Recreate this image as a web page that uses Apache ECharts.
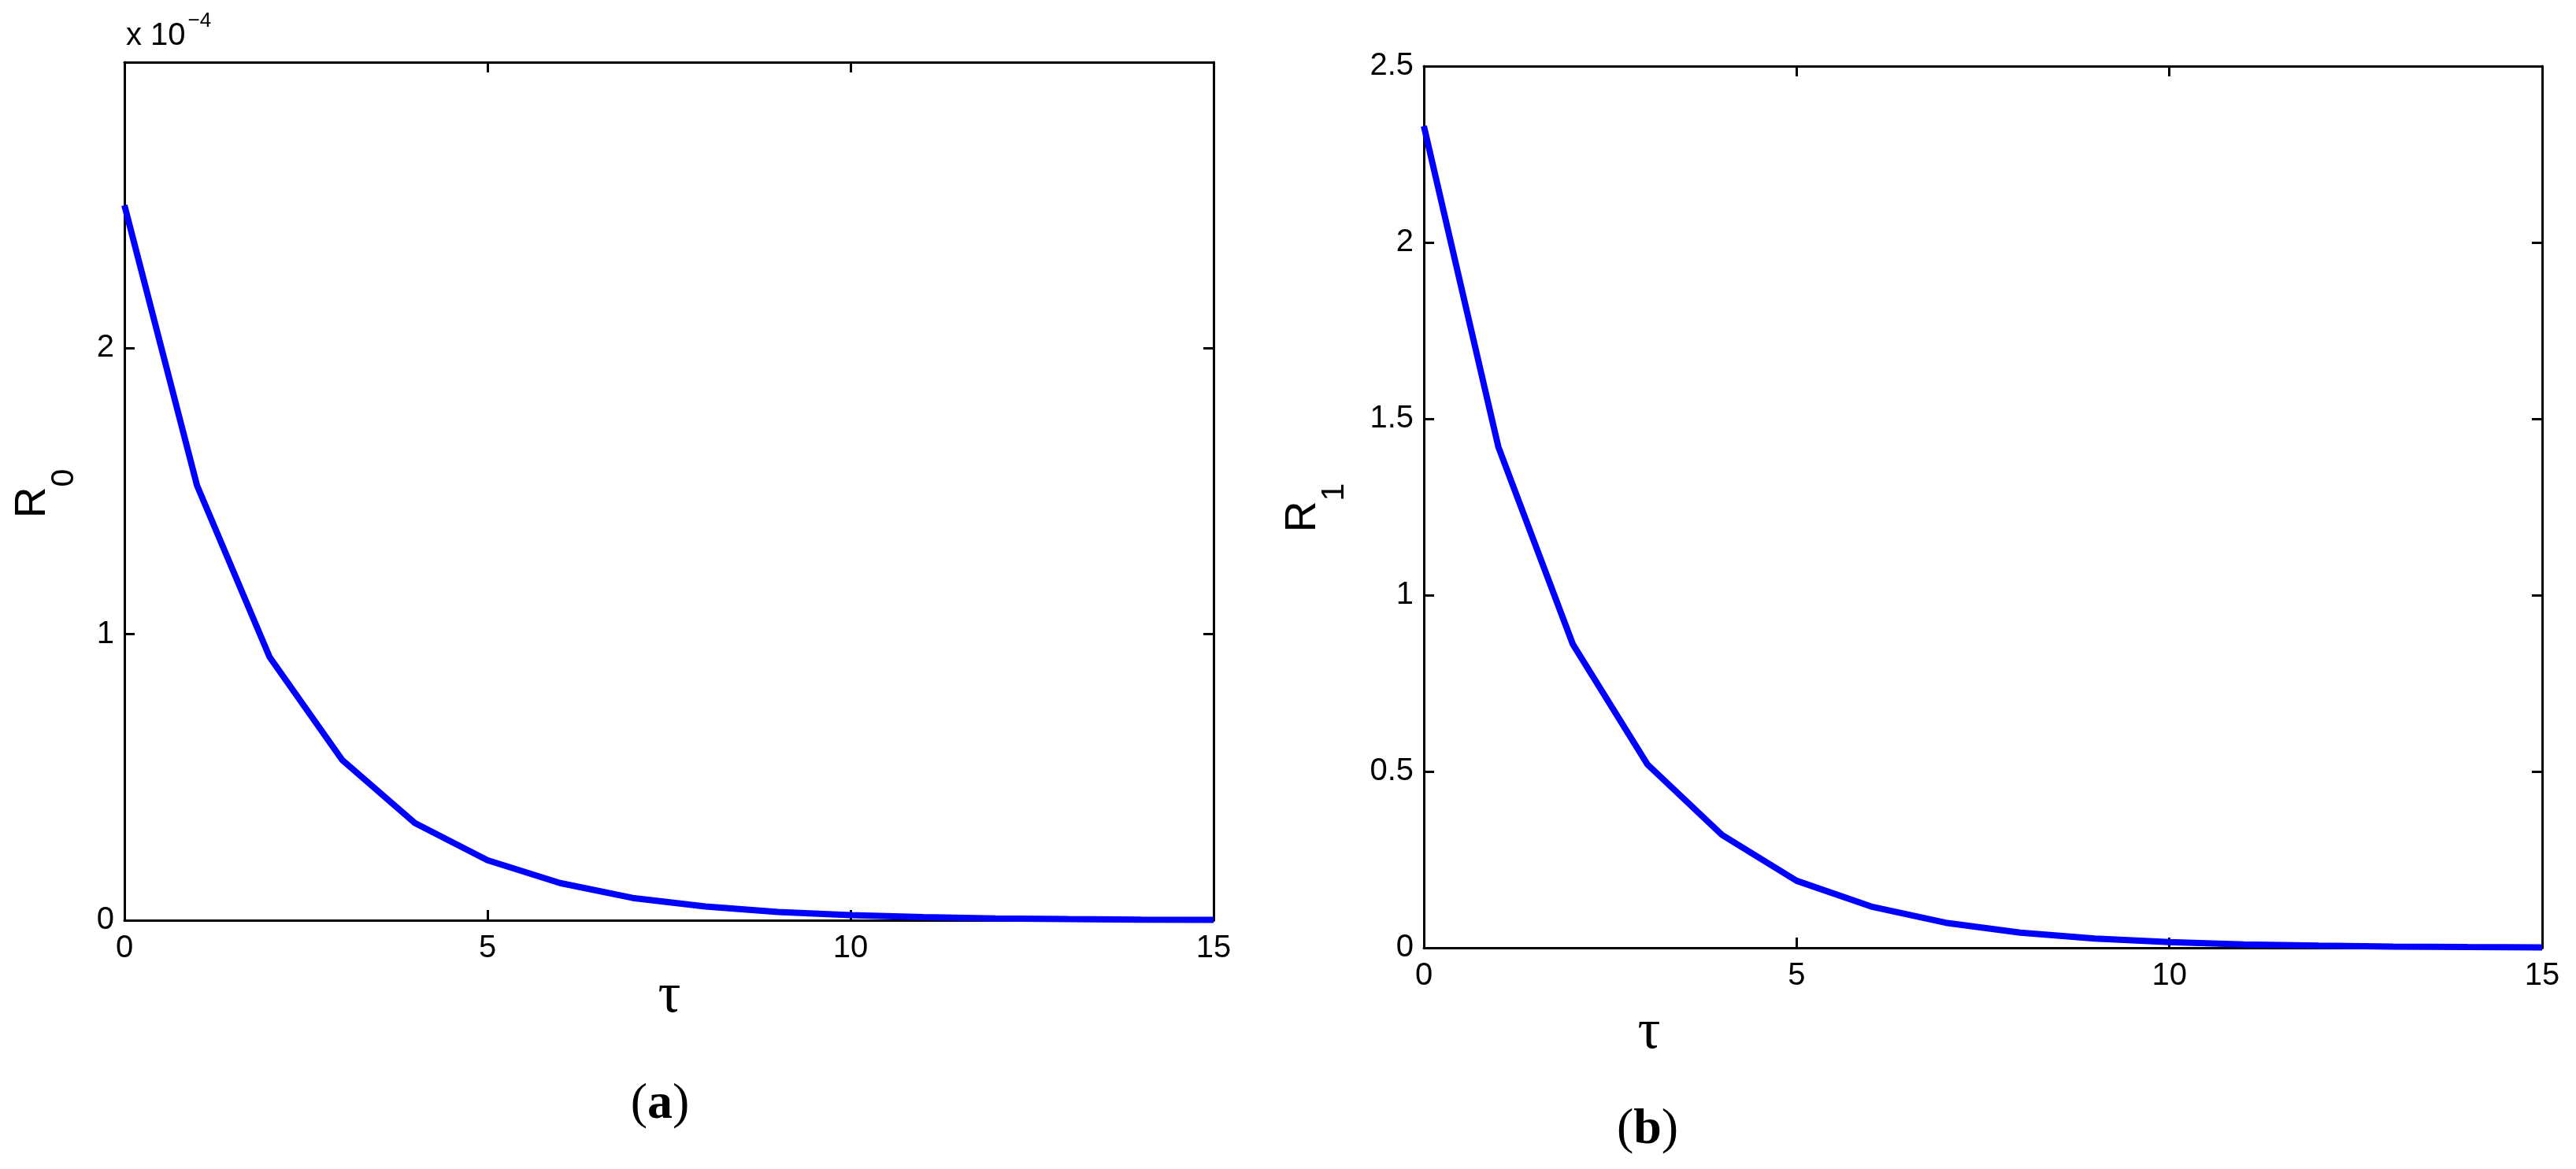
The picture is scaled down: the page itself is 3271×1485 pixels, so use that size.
<!DOCTYPE html>
<html>
<head>
<meta charset="utf-8">
<script src="https://cdn.jsdelivr.net/npm/echarts@6/dist/echarts.min.js"></script>
<style>
	html, body { margin: 0; padding: 0; background: #fff; }
	#chart { width: 3271px; height: 1485px; }
</style>
</head>
<body>
<div id="chart"></div>
<script>
	// tau values (shared by both panels)
	var tau = [0, 1, 2, 3, 4, 5, 6, 7, 8, 9, 10, 11, 12, 13, 14, 15];
	// panel (a): R0, in units of 1e-4
	var r0 = [2.50, 1.52, 0.92, 0.56, 0.34, 0.21, 0.13, 0.078, 0.048, 0.029, 0.018, 0.011, 0.0065, 0.004, 0.0024, 0.0015];
	// panel (b): R1
	var r1 = [2.33, 1.42, 0.86, 0.52, 0.32, 0.19, 0.117, 0.071, 0.043, 0.026, 0.016, 0.0097, 0.0059, 0.0036, 0.0022, 0.0013];

	var xTicks = { min: 0, max: 15, interval: 5 };
	var y0Ticks = { min: 0, max: 3, interval: 1 };
	var y1Ticks = { min: 0, max: 2.5, interval: 0.5 };

	var BLACK = '#000';
	var SANS = '"Liberation Sans", Arial, sans-serif';
	var SERIF = '"Liberation Serif", "Times New Roman", serif';

	function pairs(xs, ys) {
		var out = [];
		for (var i = 0; i < xs.length; i++) out.push([xs[i], ys[i]]);
		return out;
	}

	// one axis of the box; main ones carry labels
	function axis(grid, pos, ticks, main, fmt) {
		return {
			type: 'value',
			gridIndex: grid,
			position: pos,
			min: ticks.min, max: ticks.max, interval: ticks.interval,
			axisLine: { show: true, onZero: false, lineStyle: { color: BLACK, width: 3 } },
			axisTick: { show: true, inside: true, length: 13, lineStyle: { color: BLACK, width: 3 } },
			splitLine: { show: false },
			axisLabel: {
				show: main,
				color: BLACK,
				fontFamily: SANS,
				fontSize: 40,
				margin: (pos === 'bottom') ? 16 : 13,
				showMinLabel: true,
				showMaxLabel: true,
				formatter: fmt
			}
		};
	}

	var chart = echarts.init(document.getElementById('chart'));

	chart.setOption({
		backgroundColor: '#fff',
		animation: false,
		grid: [
			{ left: 158, top: 79, width: 1383, height: 1090 },
			{ left: 1808, top: 84, width: 1420, height: 1120 }
		],
		xAxis: [
			axis(0, 'bottom', xTicks, true),
			axis(0, 'top', xTicks, false),
			axis(1, 'bottom', xTicks, true),
			axis(1, 'top', xTicks, false)
		],
		yAxis: [
			axis(0, 'left', y0Ticks, true, function (v) { return v === 3 ? '' : String(v); }),
			axis(0, 'right', y0Ticks, false),
			axis(1, 'left', y1Ticks, true, function (v) { return String(v); }),
			axis(1, 'right', y1Ticks, false)
		],
		series: [
			{
				type: 'line',
				xAxisIndex: 0, yAxisIndex: 0,
				data: pairs(tau, r0),
				showSymbol: false,
				lineStyle: { color: '#0000ff', width: 8 }
			},
			{
				type: 'line',
				xAxisIndex: 2, yAxisIndex: 2,
				data: pairs(tau, r1),
				showSymbol: false,
				lineStyle: { color: '#0000ff', width: 8 }
			}
		],
		graphic: [
			//axis exponent
			{
				type: 'text', left: 160, top: 14,
				style: {
					text: '{a|x 10}{b|−4}',
					rich: {
						a: { fontFamily: SANS, fontSize: 40, fill: BLACK, lineHeight: 52, verticalAlign: 'bottom' },
						b: { fontFamily: SANS, fontSize: 26, fill: BLACK, lineHeight: 25, verticalAlign: 'top', padding: [0, 0, 0, 3] }
					}
				}
			},
			//y titles
			{
				type: 'text', x: 42, y: 627, rotation: Math.PI / 2,
				style: {
					text: '{r|R}{s|0}', align: 'center', verticalAlign: 'middle',
					rich: {
						r: { fontFamily: SANS, fontSize: 55, fill: BLACK, lineHeight: 120, verticalAlign: 'middle' },
						s: { fontFamily: SANS, fontSize: 41, fill: BLACK, lineHeight: 40, verticalAlign: 'bottom' }
					}
				}
			},
			{
				type: 'text', x: 1655, y: 645, rotation: Math.PI / 2,
				style: {
					text: '{r|R}{s|1}', align: 'center', verticalAlign: 'middle',
					rich: {
						r: { fontFamily: SANS, fontSize: 55, fill: BLACK, lineHeight: 120, verticalAlign: 'middle' },
						s: { fontFamily: SANS, fontSize: 41, fill: BLACK, lineHeight: 40, verticalAlign: 'bottom' }
					}
				}
			},
			//x titles
			{
				type: 'text', x: 850, y: 1266,
				style: { text: 'τ', fontFamily: SERIF, fontSize: 72, fill: BLACK, align: 'center', verticalAlign: 'middle' }
			},
			{
				type: 'text', x: 2094, y: 1312,
				style: { text: 'τ', fontFamily: SERIF, fontSize: 72, fill: BLACK, align: 'center', verticalAlign: 'middle' }
			},
			//panel captions
			{
				type: 'text', x: 838, y: 1403,
				style: {
					text: '{p|(}{b|a}{p|)}', align: 'center', verticalAlign: 'middle',
					rich: {
						p: { fontFamily: SERIF, fontSize: 64, fill: BLACK },
						b: { fontFamily: SERIF, fontSize: 64, fontWeight: 'bold', fill: BLACK }
					}
				}
			},
			{
				type: 'text', x: 2092, y: 1435,
				style: {
					text: '{p|(}{b|b}{p|)}', align: 'center', verticalAlign: 'middle',
					rich: {
						p: { fontFamily: SERIF, fontSize: 64, fill: BLACK },
						b: { fontFamily: SERIF, fontSize: 64, fontWeight: 'bold', fill: BLACK }
					}
				}
			}
		]
	});
</script>
</body>
</html>
